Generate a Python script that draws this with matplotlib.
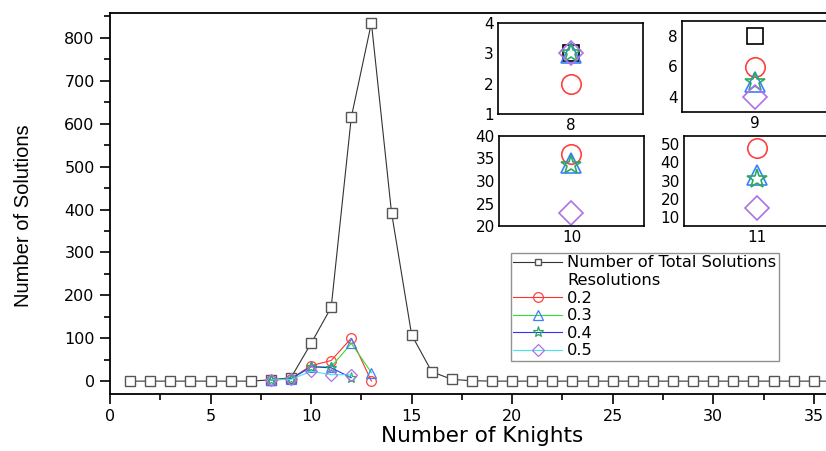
import matplotlib.pyplot as plt
from matplotlib.ticker import MultipleLocator

plt.rcParams['font.family'] = ['DejaVu Sans']

# data
knights = list(range(1, 37))
total = [0, 0, 0, 0, 0, 0, 0, 3, 8, 88, 172, 615, 835, 393, 108, 22, 4, 1] + [0] * 18

res_labels = ['0.2', '0.3', '0.4', '0.5']
res_x = [
    [8, 9, 10, 11, 12, 13],
    [8, 9, 10, 11, 12, 13],
    [8, 9, 10, 11, 12],
    [8, 9, 10, 11, 12],
]
res_y = [
    [2, 6, 36, 48, 100, 0],
    [3, 5, 34, 33, 88, 20],
    [3, 5, 33.5, 31, 8],
    [3, 4, 23, 15, 15],
]

line_colors = ['#ff3030', '#30e030', '#3030ff', '#40e8e8']
marker_colors = ['#ff4040', '#3a7fff', '#2ca860', '#b070e8']
markers = ['o', '^', '*', 'D']
msizes = [7, 7, 8, 6]

# insets: one per knight count
inset_x = [8, 9, 10, 11]
inset_total = [3, 8, None, None]
inset_ylim = [(1, 4), (3, 9), (20, 40), (5, 54.5)]
inset_yticks = [[1, 2, 3, 4], [4, 6, 8], [20, 25, 30, 35, 40], [10, 20, 30, 40, 50]]
inset_pos = [[498, 23, 145, 91], [682, 21, 146, 91], [499, 136, 145, 90], [684, 136, 146, 90]]

W, H = 826, 451
fig = plt.figure(figsize=(W / 100, H / 100), dpi=100)
ax = fig.add_axes([110 / W, 57 / H, 744 / W, 381 / H])

ax.plot(knights, total, color='#333333', lw=0.8, marker='s', ms=6.5,
        mfc='white', mec='#555555', mew=1.0, label='Number of Total Solutions')
ax.plot([], [], ls='none', label='Resolutions')
for i in range(4):
    ax.plot(res_x[i], res_y[i], color=line_colors[i], lw=0.8, marker=markers[i],
            ms=msizes[i], mfc='none', mec=marker_colors[i], mew=0.9, label=res_labels[i])

ax.set_xlim(0, 37)
ax.set_ylim(-30, 858)
ax.xaxis.set_major_locator(MultipleLocator(5))
ax.xaxis.set_minor_locator(MultipleLocator(2.5))
ax.yaxis.set_major_locator(MultipleLocator(100))
ax.yaxis.set_minor_locator(MultipleLocator(50))
ax.tick_params(which='major', direction='out', length=7, width=1.2, labelsize=11.5, pad=4)
ax.tick_params(which='minor', direction='out', length=4, width=1.2)
for s in ax.spines.values():
    s.set_linewidth(1.3)
ax.set_xlabel('Number of Knights', fontsize=15.5)
ax.xaxis.set_label_coords(0.5, -0.085)
ax.set_ylabel('Number of Solutions', fontsize=14.5, family='Liberation Sans')
ax.yaxis.set_label_coords(-0.1035, 0.467)

leg = ax.legend(loc='upper left', bbox_to_anchor=(511 / W, 1 - 253 / H),
                bbox_transform=fig.transFigure, fontsize=11.7, frameon=True,
                fancybox=False, edgecolor='#777777', handlelength=3.0,
                handletextpad=0.3, borderpad=0.15, labelspacing=0.16,
                borderaxespad=0)
leg.get_frame().set_linewidth(1.0)
leg.legend_handles[0].set_markersize(4)

for j in range(4):
    l, t, w, h = inset_pos[j]
    ia = fig.add_axes([l / W, 1 - (t + h) / H, w / W, h / H])
    if inset_total[j] is not None:
        ia.plot([inset_x[j]], [inset_total[j]], marker='s', ms=12, mfc='none',
                mec='black', mew=1.2, ls='none')
    for i in range(4):
        ia.plot([inset_x[j]], [res_y[i][j]], marker=markers[i], ms=[14, 14, 15, 12][i],
                mfc='none', mec=marker_colors[i], mew=1.2, ls='none')
    ia.set_xlim(inset_x[j] - 1, inset_x[j] + 1)
    ia.set_xticks([inset_x[j]])
    ia.set_ylim(*inset_ylim[j])
    ia.set_yticks(inset_yticks[j])
    ia.tick_params(length=0, labelsize=11, pad=3)
    for s in ia.spines.values():
        s.set_linewidth(1.2)

fig.savefig('out.png', dpi=100)
